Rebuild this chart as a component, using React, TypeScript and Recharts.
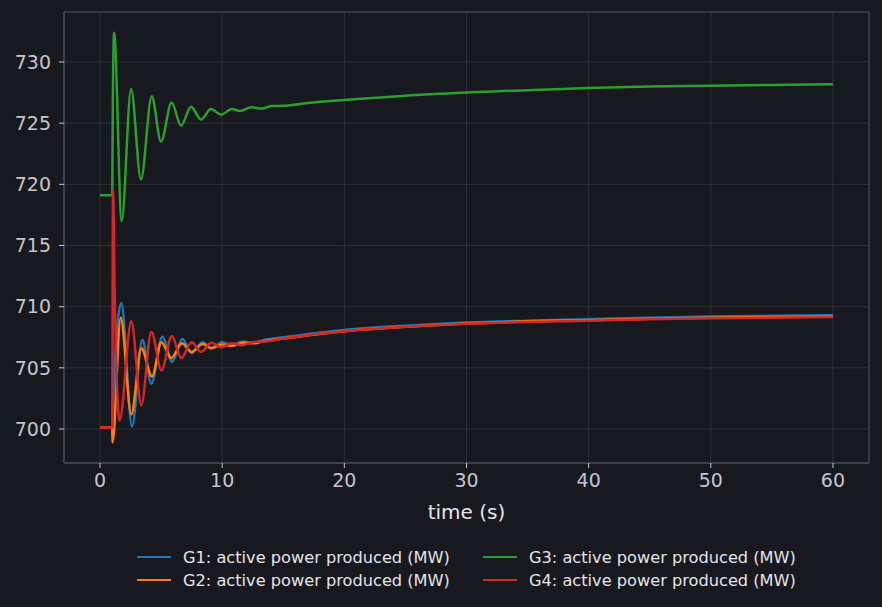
import React from 'react'
import { LineChart, Line, XAxis, YAxis, CartesianGrid, ReferenceArea, Label } from 'recharts'

// time (s) / active power (MW) at peaks, troughs and along the slow tail
const g1Time = [0, 1.0, 1.03, 1.74, 2.62, 3.46, 4.2, 5.1, 5.9, 6.74, 7.5, 8.4, 9.1, 10.0, 10.8, 11.7, 12.5, 13.5, 15, 20, 25, 30, 35, 40, 45, 50, 55, 60]
const g1Power = [700.1, 700.1, 701.5, 710.3, 700.2, 707.3, 703.7, 707.55, 705.5, 707.35, 706.2, 707.1, 706.6, 707.1, 706.85, 707.15, 707.05, 707.3, 707.5, 708.1, 708.45, 708.7, 708.85, 708.97, 709.1, 709.2, 709.25, 709.3]

const g2Time = [0, 1.0, 1.02, 1.69, 2.56, 3.38, 4.26, 5.02, 5.83, 6.7, 7.5, 8.4, 9.1, 10.0, 10.8, 11.7, 12.5, 13.5, 15, 20, 25, 30, 35, 40, 45, 50, 55, 60]
const g2Power = [700.1, 700.1, 698.9, 709.1, 701.2, 706.6, 704.3, 707.1, 705.8, 707.0, 706.3, 706.95, 706.6, 706.9, 706.8, 707.05, 707.0, 707.2, 707.4, 708.0, 708.35, 708.62, 708.8, 708.9, 709.02, 709.1, 709.16, 709.2]

const g3Time = [0, 1.0, 1.05, 1.15, 1.77, 2.54, 3.35, 4.23, 4.99, 5.86, 6.63, 7.45, 8.27, 9.08, 9.9, 10.8, 11.45, 12.4, 13.2, 14.1, 15, 17, 20, 25, 30, 35, 40, 45, 50, 55, 60]
const g3Power = [719.1, 719.1, 727.0, 732.4, 717.0, 727.8, 720.4, 727.2, 723.5, 726.7, 724.8, 726.35, 725.3, 726.15, 725.7, 726.15, 726.0, 726.3, 726.2, 726.4, 726.42, 726.65, 726.9, 727.25, 727.5, 727.7, 727.87, 728.0, 728.07, 728.13, 728.18]

const g4Time = [0, 1.0, 1.06, 1.2, 1.6, 2.56, 3.38, 4.2, 5.03, 5.88, 6.65, 7.5, 8.27, 9.13, 9.9, 10.8, 11.6, 12.5, 13.5, 15, 20, 25, 30, 35, 40, 45, 50, 55, 60]
const g4Power = [700.1, 700.1, 719.5, 711.0, 700.7, 708.8, 701.95, 707.95, 704.8, 707.6, 705.8, 707.1, 706.3, 707.05, 706.67, 707.0, 706.85, 707.1, 707.15, 707.4, 708.0, 708.35, 708.6, 708.75, 708.85, 708.98, 709.05, 709.1, 709.15]

const xTicks = [0, 10, 20, 30, 40, 50, 60]
const yTicks = [700, 705, 710, 715, 720, 725, 730]
const xDomain: [number, number] = [-2.95, 62.95]
const yDomain: [number, number] = [697.22, 734.09]

const series = [
  { name: 'G1: active power produced (MW)', color: '#1f77b4', t: g1Time, p: g1Power },
  { name: 'G2: active power produced (MW)', color: '#ff7f0e', t: g2Time, p: g2Power },
  { name: 'G3: active power produced (MW)', color: '#2ca02c', t: g3Time, p: g3Power },
  { name: 'G4: active power produced (MW)', color: '#d62728', t: g4Time, p: g4Power },
]

const BG = '#18191e'
const FONT = '"DejaVu Sans", sans-serif'

export default function App() {
  const tick = { fontSize: 19, fill: '#c3c6ce', fontFamily: FONT }
  // legend is two columns: G1/G2 left, G3/G4 right
  const legendPos = [
    { left: 137, top: 557 },
    { left: 137, top: 580 },
    { left: 483, top: 557 },
    { left: 483, top: 580 },
  ]

  return (
    <div style={{ position: 'absolute', left: 0, top: 0, width: 882, height: 607, background: BG, fontFamily: FONT }}>
      <LineChart width={882} height={607} margin={{ top: 12, right: 13, bottom: 84, left: 4 }}>
        <CartesianGrid stroke="#2e3037" strokeWidth={1} />
        <XAxis
          type="number"
          dataKey="t"
          domain={xDomain}
          ticks={xTicks}
          allowDataOverflow
          height={60}
          tick={tick}
          tickSize={5}
          tickMargin={6}
          stroke="#4a4d56"
          tickLine={{ stroke: '#c3c6ce' }}
        >
          <Label value="time (s)" position="insideBottom" offset={4} style={{ fontSize: 20, fill: '#e4e4e8', fontFamily: FONT }} />
        </XAxis>
        <YAxis
          type="number"
          domain={yDomain}
          ticks={yTicks}
          allowDataOverflow
          width={60}
          tick={tick}
          tickSize={5}
          tickMargin={8}
          stroke="#4a4d56"
          tickLine={{ stroke: '#c3c6ce' }}
        />
        <ReferenceArea x1={xDomain[0]} x2={xDomain[1]} y1={yDomain[0]} y2={yDomain[1]} fill="none" stroke="#4a4d56" strokeWidth={1} ifOverflow="visible" />
        {series.map(s => (
          <Line
            key={s.name}
            data={s.t.map((t, i) => ({ t, p: s.p[i] }))}
            dataKey="p"
            type="monotone"
            stroke={s.color}
            strokeWidth={2.5}
            dot={false}
            isAnimationActive={false}
          />
        ))}
      </LineChart>
      {series.map((s, i) => (
        <div key={s.name} style={{ position: 'absolute', left: legendPos[i].left, top: legendPos[i].top - 10, height: 20, display: 'flex', alignItems: 'center' }}>
          <div style={{ width: 34, height: 2.5, background: s.color, marginRight: 12 }} />
          <span style={{ fontSize: 16.2, color: '#e4e4e8', whiteSpace: 'nowrap' }}>{s.name}</span>
        </div>
      ))}
    </div>
  )
}
